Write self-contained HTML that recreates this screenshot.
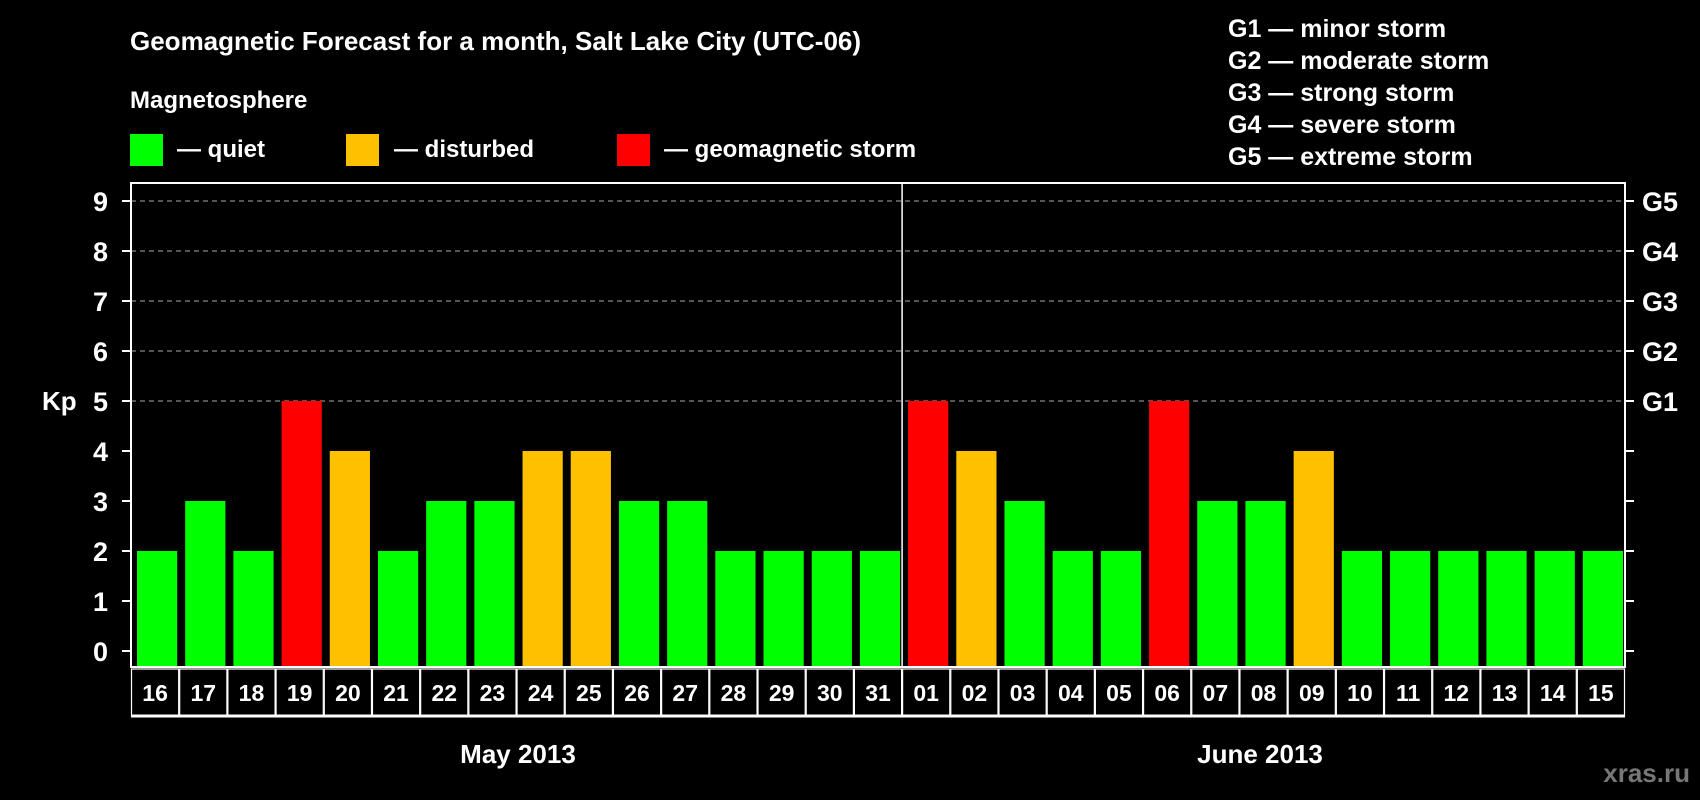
<!DOCTYPE html>
<html><head><meta charset="utf-8"><style>
html,body{margin:0;padding:0;background:#000;}
svg{display:block;font-family:"Liberation Sans",Arial,sans-serif;font-weight:bold;}
</style></head><body>
<svg id="chart" width="1700" height="800" viewBox="0 0 1700 800">
<rect width="1700" height="800" fill="#000"/>
<text x="130" y="50" fill="#fff" font-size="26">Geomagnetic Forecast for a month, Salt Lake City (UTC-06)</text>
<text x="130" y="108" fill="#fff" font-size="24">Magnetosphere</text>
<g><rect x="130" y="134" width="33" height="32" fill="#00ff00"/><text x="177" y="157" fill="#fff" font-size="24">— quiet</text></g>
<g><rect x="346" y="134" width="33" height="32" fill="#ffc000"/><text x="394" y="157" fill="#fff" font-size="24">— disturbed</text></g>
<g><rect x="617" y="134" width="33" height="32" fill="#ff0000"/><text x="664" y="157" fill="#fff" font-size="24">— geomagnetic storm</text></g>
<g fill="#fff" font-size="25">
<text x="1228" y="37">G1 — minor storm</text>
<text x="1228" y="69">G2 — moderate storm</text>
<text x="1228" y="101">G3 — strong storm</text>
<text x="1228" y="133">G4 — severe storm</text>
<text x="1228" y="165">G5 — extreme storm</text>
</g>
<text x="42" y="410" fill="#fff" font-size="26">Kp</text>
<g id="grid"></g><g id="bars"></g><g id="axes"></g><g id="days"></g>
<text x="518" y="763" fill="#fff" font-size="26" text-anchor="middle">May 2013</text>
<text x="1260" y="763" fill="#fff" font-size="26" text-anchor="middle">June 2013</text>
<text x="1690" y="782" fill="#777" font-size="26" text-anchor="end">xras.ru</text>
</svg>
<script>
const days = ["16","17","18","19","20","21","22","23","24","25","26","27","28","29","30","31","01","02","03","04","05","06","07","08","09","10","11","12","13","14","15"];
const kpValues = [2,3,2,5,4,2,3,3,4,4,3,3,2,2,2,2,5,4,3,2,2,5,3,3,4,2,2,2,2,2,2];
const yTicks = [0,1,2,3,4,5,6,7,8,9];
const gLabels = ["G1","G2","G3","G4","G5"];
const gLevels = [5,6,7,8,9];
const monthBreak = 16;

const NS="http://www.w3.org/2000/svg";
const L=131,R=1625,T=183,B=667;
const pitch=(R-L)/days.length;
const y=v=>651-v*50;
const x=i=>L+i*pitch;
function mk(tag,attrs,parent){const e=document.createElementNS(NS,tag);for(const k in attrs)e.setAttribute(k,attrs[k]);parent.appendChild(e);return e;}
const grid=document.getElementById('grid'),bars=document.getElementById('bars'),axes=document.getElementById('axes'),dg=document.getElementById('days');
yTicks.forEach(v=>{
  if(v>=5){const g=mk('line',{x1:L,x2:R,y1:y(v),y2:y(v),stroke:'#888','stroke-width':1.3,'stroke-dasharray':'5,4'},grid);
    
    }
  const t=mk('line',{x1:L-9,x2:L,y1:y(v),y2:y(v),stroke:'#fff','stroke-width':2},axes);
  
  
  const t2=mk('line',{x1:R,x2:R+9,y1:y(v),y2:y(v),stroke:'#fff','stroke-width':2},axes);
  
  
  const lb=mk('text',{x:108,y:y(v)+10,fill:'#fff','font-size':27,'text-anchor':'end'},axes);
  lb.textContent=v;
  
  
});
gLabels.forEach((g,i)=>{
  const lb=mk('text',{x:R+17,y:y(gLevels[i])+10,fill:'#fff','font-size':27},axes);
  lb.textContent=g;
  
  
});
kpValues.forEach((v,i)=>{
  const c=v>=5?'#ff0000':(v>=4?'#ffc000':'#00ff00');
  const r=mk('rect',{x:x(i)+6,y:y(v),width:pitch-8,height:y(0)-y(v)+15,fill:c},bars);
  
  
});
const fr=mk('rect',{x:L,y:T,width:R-L,height:B-T,fill:'none',stroke:'#fff','stroke-width':2},axes);


const dv=mk('line',{x1:x(monthBreak),x2:x(monthBreak),y1:T,y2:B,stroke:'#fff','stroke-width':1.5},axes);


days.forEach((d,i)=>{
  const b=mk('rect',{x:x(i)+0.5,y:669,width:pitch-1,height:47,fill:'#000',stroke:'#fff','stroke-width':1.2},dg);
  
  
  const t=mk('text',{x:x(i)+pitch/2,y:701,fill:'#fff','font-size':23,'text-anchor':'middle'},dg);
  t.textContent=d;
  
  
});
const bl=mk('line',{x1:L,x2:R,y1:716,y2:716,stroke:'#fff','stroke-width':3},dg);


</script>
</body></html>
